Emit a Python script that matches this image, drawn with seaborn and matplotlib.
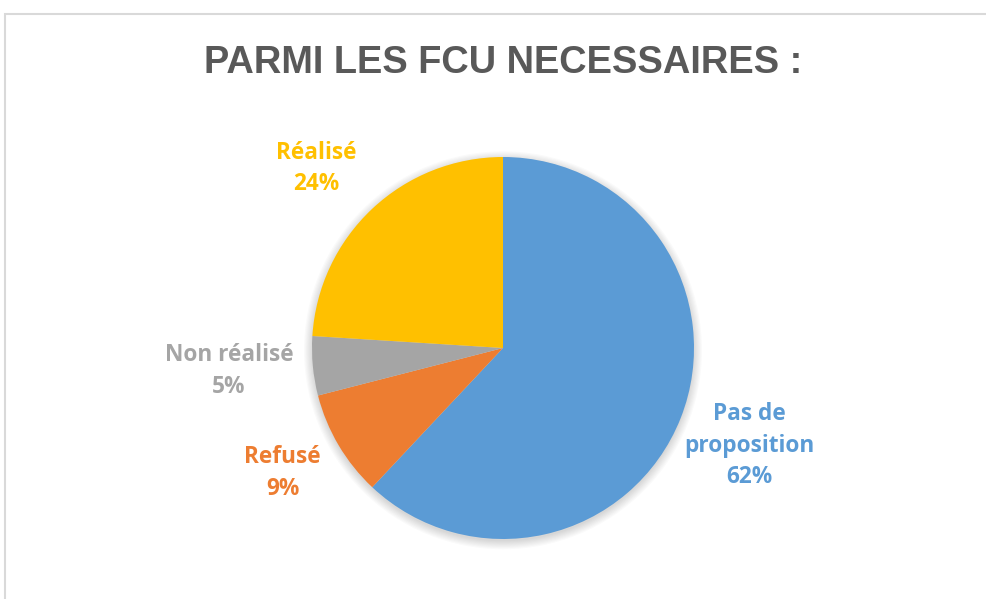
import numpy as np
import matplotlib
matplotlib.use("Agg")
import matplotlib.pyplot as plt
from matplotlib.patches import Rectangle, Circle
import seaborn as sns

# data (clockwise from 12 o'clock)
categories = ["Pas de\nproposition", "Refusé", "Non réalisé", "Réalisé"]
shares = [62, 9, 5, 24]
colors_hex = ["#5B9BD5", "#ED7D31", "#A5A5A5", "#FFC000"]
label_dist = [1.39, 1.327, 1.44, 1.357]
label_shift = [0, -1.0, -0.6, 3.0]  # degrees, nudges from wedge middle

sns.set_theme(style="white")
plt.rcParams["font.family"] = ["Open Sans", "DejaVu Sans"]

W, H = 987, 599
fig = plt.figure(figsize=(W / 100, H / 100), dpi=100)
ax = fig.add_axes([0, 0, 1, 1])

# pie geometry in pixels
cx, cy, R = 503, 348, 191
xlim = (-cx / R, (W - cx) / R)
ylim = (-(H - cy) / R, cy / R)

palette = sns.color_palette(colors_hex)

# soft shadow behind the pie
for i in range(8):
    ax.add_patch(Circle((0.0, -0.012), 1.0 + 0.006 * i, color="black",
                        alpha=0.018, lw=0, zorder=0))

wedges, _ = ax.pie(shares, colors=palette, startangle=90, counterclock=False,
                   radius=1.0, wedgeprops=dict(linewidth=0, zorder=2))

for w, cat, val, d, sh, col in zip(wedges, categories, shares, label_dist,
                                   label_shift, palette):
    mid = np.deg2rad((w.theta1 + w.theta2) / 2 + sh)
    ax.text(d * np.cos(mid), d * np.sin(mid), f"{cat}\n{val}%",
            ha="center", va="center", color=col, fontsize=16.3,
            fontweight="bold", linespacing=1.42, zorder=3)

ax.set_xlim(*xlim)
ax.set_ylim(*ylim)
ax.set_aspect("auto")
ax.set_axis_off()

fig.text(503 / W, 1 - 63 / H, "PARMI LES FCU NECESSAIRES :", ha="center",
         va="center", fontsize=27.4, fontweight="bold", color="#595959",
         family=["Liberation Sans", "DejaVu Sans"])

fig.patches.append(Rectangle((5 / W, -0.1), 1.2, (H - 14) / H + 0.1,
                             transform=fig.transFigure, fill=False,
                             edgecolor="#D9D9D9", lw=1.5))

fig.savefig("out.png", dpi=100)
